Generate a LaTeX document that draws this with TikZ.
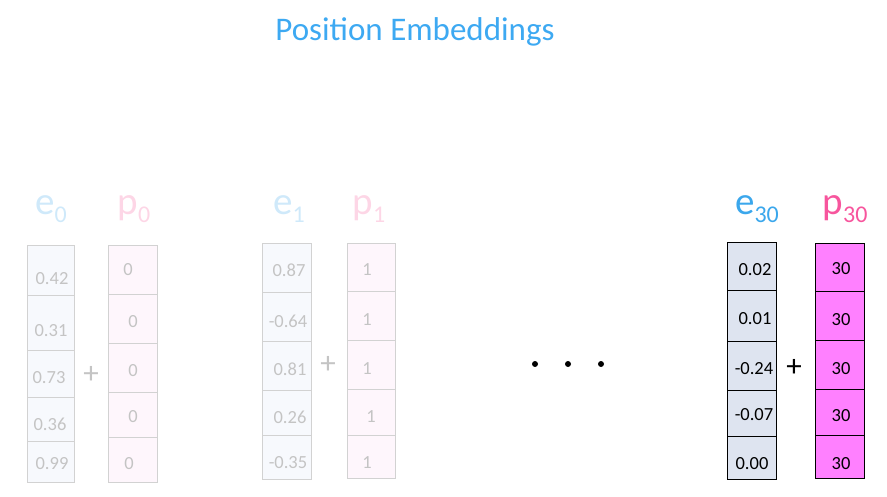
\documentclass[tikz,border=0pt]{standalone}
\usepackage{fontspec}
\setmainfont{Carlito}
\usetikzlibrary{positioning}

\definecolor{titleblue}{HTML}{3DA9F2}
\definecolor{eblue}{HTML}{3BA7EC}
\definecolor{ppink}{HTML}{F7559D}
\definecolor{efade}{HTML}{CFE9FA}
\definecolor{pfade}{HTML}{FDD6E6}
\definecolor{ecellfill}{HTML}{DEE4F0}
\definecolor{pcellfill}{HTML}{FF80FF}
\definecolor{efillold}{HTML}{F7F9FD}
\definecolor{pfillold}{HTML}{FEF6FC}
\definecolor{lineold}{HTML}{D2D2D2}
\definecolor{textold}{HTML}{C4C4C4}

\newcommand{\lbsub}[1]{\raisebox{-8pt}{\fontsize{24}{24}\selectfont #1}}

\tikzset{
    ecellold/.style={draw=lineold, fill=efillold, line width=0.9pt},
    pcellold/.style={draw=lineold, fill=pfillold, line width=0.9pt},
    ecell/.style={draw=black, fill=ecellfill, line width=0.9pt},
    pcell/.style={draw=black, fill=pcellfill, line width=0.9pt},
    val/.style={inner sep=0pt, font=\fontsize{18.5}{19}\selectfont},
    valold/.style={val, text=textold},
    lab/.style={inner sep=0pt, anchor=base, font=\fontsize{39}{39}\selectfont},
    plus/.style={inner sep=0pt, font=\fontsize{31}{31}\selectfont}
}

\begin{document}
\begin{tikzpicture}[x=1pt, y=-1pt]
    \useasboundingbox (0,0) rectangle (887,497);

    % Title
    \node[inner sep=0pt, anchor=base, text=titleblue, font=\fontsize{33}{33}\selectfont] (title) at (415,41) {Position Embeddings};

    % First word (faded)
    \node[lab, text=efade] (e0) at (51,215) {e\lbsub{0}};
    \node[lab, text=pfade] (p0) at (134,215) {p\lbsub{0}};
    \foreach \ytop/\ybot/\v/\tx/\ty [count=\i] in {245/295/0.42/52/279, 295/350/0.31/51/331, 350/397/0.73/49/378, 397/441/0.36/50/424, 441/482/0.99/52/464} {
        \draw[ecellold] (27,\ytop) rectangle (74,\ybot);
        \node[valold] (e0v\i) at (\tx,\ty) {\v};
    }
    \foreach \ytop/\ybot/\v/\tx/\ty [count=\i] in {245/294/0/128/270, 294/343/0/133/322, 343/392/0/133/371, 392/437/0/133/417, 437/482/0/129/464} {
        \draw[pcellold] (108,\ytop) rectangle (157,\ybot);
        \node[valold] (p0v\i) at (\tx,\ty) {\v};
    }
    \node[plus, text=textold] (plus0) at (91,375) {+};

    % Second word (faded)
    \node[lab, text=efade] (e1) at (289,215) {e\lbsub{1}};
    \node[lab, text=pfade] (p1) at (369,215) {p\lbsub{1}};
    \foreach \ytop/\ybot/\v/\tx/\ty [count=\i] in {243/292/0.87/289/270, 292/341/-0.64/288/321, 341/390/0.81/290/369, 390/435/0.26/290/417, 435/479/-0.35/288/463} {
        \draw[ecellold] (262,\ytop) rectangle (311,\ybot);
        \node[valold] (e1v\i) at (\tx,\ty) {\v};
    }
    \foreach \ytop/\ybot/\v/\tx/\ty [count=\i] in {243/291/1/367/270, 291/340/1/367/320, 340/389/1/367/369, 389/435/1/371/417, 435/478/1/367/463} {
        \draw[pcellold] (347,\ytop) rectangle (395,\ybot);
        \node[valold] (p1v\i) at (\tx,\ty) {\v};
    }
    \node[plus, text=textold] (plus1) at (328,365) {+};

    % Dots
    \foreach \x in {535,568,601}
        \fill (\x,364) circle (3);

    % Last word
    \node[lab, text=eblue] (e30) at (757,215) {e\lbsub{30}};
    \node[lab, text=ppink] (p30) at (845,215) {p\lbsub{30}};
    \foreach \ytop/\ybot/\v/\tx/\ty [count=\i] in {242/290/0.02/755/270, 290/341/0.01/755/319, 341/390/-0.24/754/369, 390/436/-0.07/754/415, 436/479/0.00/752/464} {
        \draw[ecell] (727,\ytop) rectangle (776,\ybot);
        \node[val] (e30v\i) at (\tx,\ty) {\v};
    }
    \foreach \ytop/\ybot/\v/\tx/\ty [count=\i] in {243/291/30/841/269, 291/340/30/841/320, 340/389/30/841/369, 389/435/30/841/416, 435/478/30/841/464} {
        \draw[pcell] (815,\ytop) rectangle (864,\ybot);
        \node[val] (p30v\i) at (\tx,\ty) {\v};
    }
    \node[plus] (plus30) at (794,368) {+};
\end{tikzpicture}
\end{document}
